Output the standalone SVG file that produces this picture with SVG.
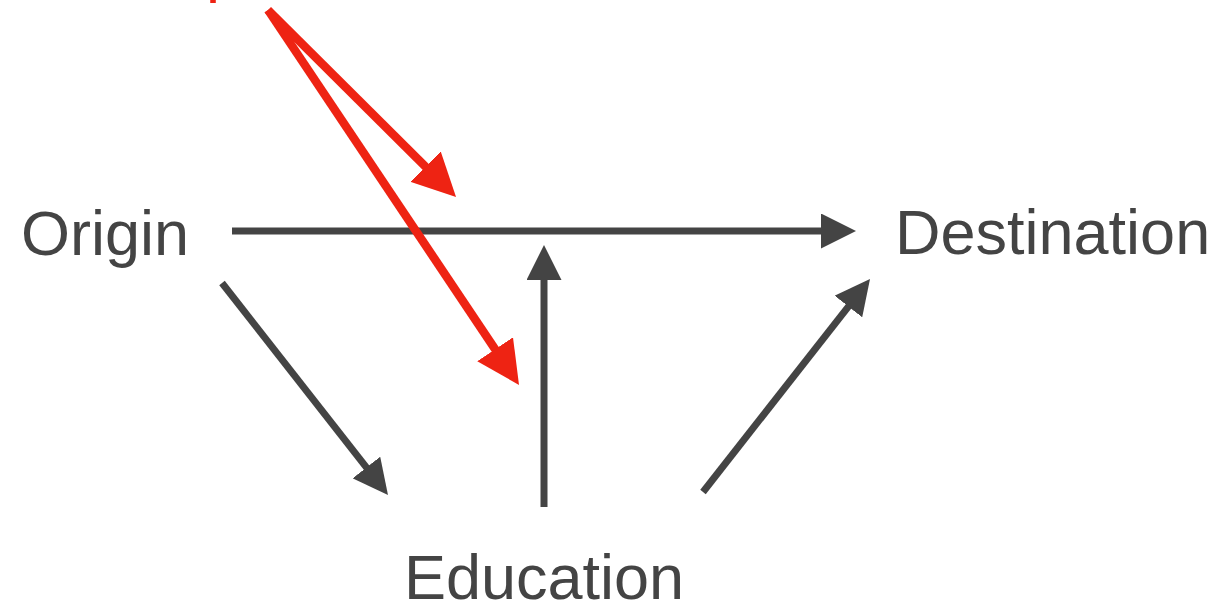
<svg xmlns="http://www.w3.org/2000/svg" width="1221" height="603" viewBox="0 0 1221 603">
  <style>
    .lbl { font-family: "Liberation Sans", Arial, Helvetica, sans-serif; font-size: 63px; fill: #444444; }
    .red-lbl { font-family: "Liberation Sans", Arial, Helvetica, sans-serif; font-size: 63px; fill: #ee2313; }
    .dark { stroke: #444444; stroke-width: 7; fill: none; stroke-linecap: butt; }
    .red { stroke: #ee2313; stroke-width: 8.5; fill: none; stroke-linecap: butt; }
  </style>
  <defs>
    <marker id="headDark" markerUnits="userSpaceOnUse" viewBox="0 0 35 35" markerWidth="35" markerHeight="35" refX="5" refY="17.5" orient="auto">
      <path d="M0,0 L35,17.5 L0,35 Z" fill="#444444"/>
    </marker>
    <marker id="headRed" markerUnits="userSpaceOnUse" viewBox="0 0 43 43" markerWidth="43" markerHeight="43" refX="5" refY="21.5" orient="auto">
      <path d="M0,0 L43,21.5 L0,43 Z" fill="#ee2313"/>
    </marker>
  </defs>

  <g id="node-origin">
    <text class="lbl" x="21" y="255">Origin</text>
  </g>
  <g id="node-destination">
    <text class="lbl" x="895" y="254">Destination</text>
  </g>
  <g id="node-education">
    <text class="lbl" x="544" y="599" text-anchor="middle">Education</text>
  </g>
  <g id="node-red-label">
    <text class="red-lbl" x="206" y="-10">p</text>
  </g>

  <g id="connectors">
    <line class="dark" x1="232" y1="231" x2="826" y2="231" marker-end="url(#headDark)"/>
    <line class="dark" x1="544" y1="507" x2="544" y2="275" marker-end="url(#headDark)"/>
    <line class="dark" x1="222" y1="283" x2="369.5" y2="471.4" marker-end="url(#headDark)"/>
    <line class="dark" x1="703" y1="492" x2="851.5" y2="302.6" marker-end="url(#headDark)"/>
    <line class="red" x1="268" y1="10" x2="429.1" y2="170.2" marker-end="url(#headRed)"/>
    <line class="red" x1="268" y1="10" x2="497.9" y2="353.4" marker-end="url(#headRed)"/>
  </g>
</svg>
